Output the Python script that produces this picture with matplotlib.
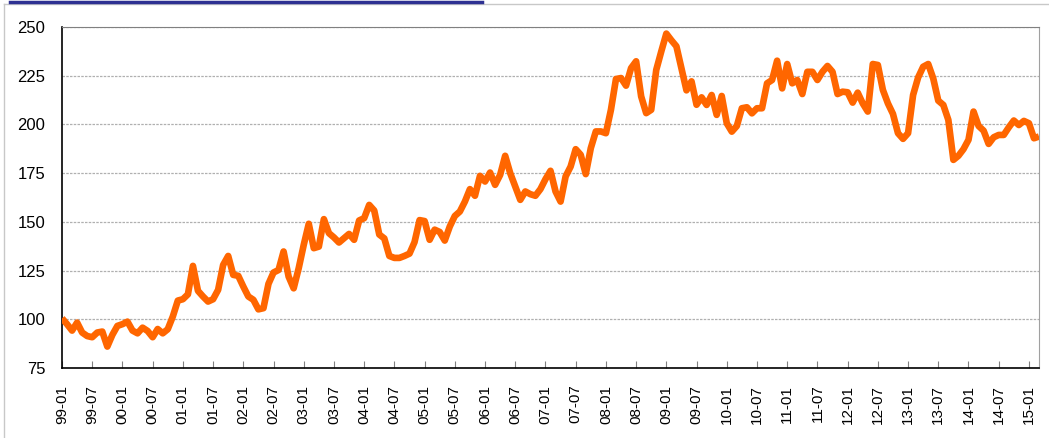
import matplotlib.pyplot as plt
from matplotlib.lines import Line2D
from matplotlib import font_manager

# monthly index, 99-01 .. 15-03
values = [
    100.5, 97.5, 94.2, 98.3, 93.2, 91.4, 90.8, 93.2, 93.7, 86.0,
    92.0, 96.6, 97.5, 98.8, 94.2, 92.8, 95.7, 94.0, 90.8, 95.0,
    92.8, 94.9, 101.4, 109.6, 110.3, 112.8, 127.4, 114.6, 111.7, 109.1,
    110.3, 115.1, 127.9, 132.5, 122.8, 122.3, 116.8, 111.7, 110.0, 105.1,
    105.7, 118.2, 124.0, 125.3, 134.8, 121.9, 115.9, 126.2, 138.2, 149.0,
    136.5, 137.3, 151.4, 144.2, 142.0, 139.4, 141.6, 143.8, 140.8, 150.7,
    151.9, 158.7, 155.8, 143.5, 141.5, 132.5, 131.5, 131.5, 132.5, 133.7,
    139.6, 150.9, 150.4, 140.8, 146.0, 144.8, 140.4, 147.6, 153.0, 155.3,
    160.4, 166.8, 163.4, 173.6, 170.7, 175.3, 169.0, 174.1, 183.9, 175.0,
    168.2, 161.3, 165.6, 164.2, 163.4, 166.8, 171.9, 176.2, 165.6, 160.4,
    173.3, 178.4, 187.3, 184.4, 174.5, 187.8, 196.4, 196.4, 195.5, 207.5,
    223.3, 223.8, 219.9, 228.9, 232.4, 214.4, 205.8, 207.5, 228.0, 237.5,
    246.6, 243.2, 240.1, 228.9, 217.5, 222.1, 210.1, 213.9, 210.0, 215.1,
    204.9, 214.6, 200.6, 196.3, 199.2, 208.3, 208.8, 205.7, 208.3, 208.3,
    221.1, 222.8, 232.7, 218.5, 231.0, 221.1, 222.8, 215.6, 227.0, 227.0,
    222.8, 227.0, 230.0, 227.0, 215.6, 216.8, 216.5, 211.2, 216.3, 210.8,
    206.6, 231.0, 230.5, 217.7, 210.8, 205.4, 195.5, 192.6, 195.5, 215.1,
    224.1, 229.6, 231.0, 223.6, 212.2, 210.0, 202.3, 181.8, 183.9, 187.3,
    192.1, 206.6, 199.2, 196.8, 190.0, 193.4, 194.6, 194.6, 198.5, 202.0,
    199.7, 201.8, 200.6, 192.9, 193.8,
]

tick_labels = ['99-01', '99-07', '00-01', '00-07', '01-01', '01-07', '02-01',
               '02-07', '03-01', '03-07', '04-01', '04-07', '05-01', '05-07',
               '06-01', '06-07', '07-01', '07-07', '08-01', '08-07', '09-01',
               '09-07', '10-01', '10-07', '11-01', '11-07', '12-01', '12-07',
               '13-01', '13-07', '14-01', '14-07', '15-01']
y_ticks = [75, 100, 125, 150, 175, 200, 225, 250]

plt.rcParams['font.family'] = ['Liberation Sans', 'DejaVu Sans']

# narrow face for the rotated month labels if there is one
names = {f.name for f in font_manager.fontManager.ttflist}
if 'Liberation Sans Narrow' in names:
    xfont, xsize = 'Liberation Sans Narrow', 12
else:
    xfont, xsize = 'Liberation Sans', 11

W, H = 1049, 438
fig = plt.figure(figsize=(W / 100, H / 100), dpi=100)
ax = fig.add_axes([62 / W, 1 - 368 / H, (1039 - 62) / W, (368 - 27) / H])

x = list(range(len(values)))
ax.plot(x, values, color='#ff6600', lw=4.8, solid_joinstyle='round',
        solid_capstyle='butt', zorder=3)

ax.set_xlim(0, len(values) - 1)
ax.set_ylim(75, 250)
ax.set_yticks(y_ticks)
ax.set_xticks([i * 6 for i in range(len(tick_labels))])
ax.set_xticklabels(tick_labels, rotation=90, fontsize=xsize, family=xfont)
ax.tick_params(axis='y', labelsize=12, direction='in', length=0, pad=12)
ax.tick_params(axis='x', direction='in', length=5, color='#808080', pad=12)

ax.yaxis.grid(True, color='#b0b0b0', ls=(0, (2, 1)), lw=0.9)
ax.set_axisbelow(True)

ax.spines['left'].set_color('black')
ax.spines['bottom'].set_color('black')
ax.spines['left'].set_linewidth(1.2)
ax.spines['bottom'].set_linewidth(1.2)
ax.spines['top'].set_color('#808080')
ax.spines['right'].set_color('#a0a0a0')

# chart frame and the clipped title underline at the very top
fig.add_artist(Line2D([4 / W, 4 / W], [0, 1 - 4 / H], color='#c8c8c8', lw=1))
fig.add_artist(Line2D([4 / W, 1], [1 - 4 / H, 1 - 4 / H], color='#c8c8c8', lw=1))
fig.add_artist(Line2D([10 / W, 482 / W], [1 - 1.5 / H, 1 - 1.5 / H],
                      color='#2e3192', lw=2.5))

fig.savefig('out.png', dpi=100)
